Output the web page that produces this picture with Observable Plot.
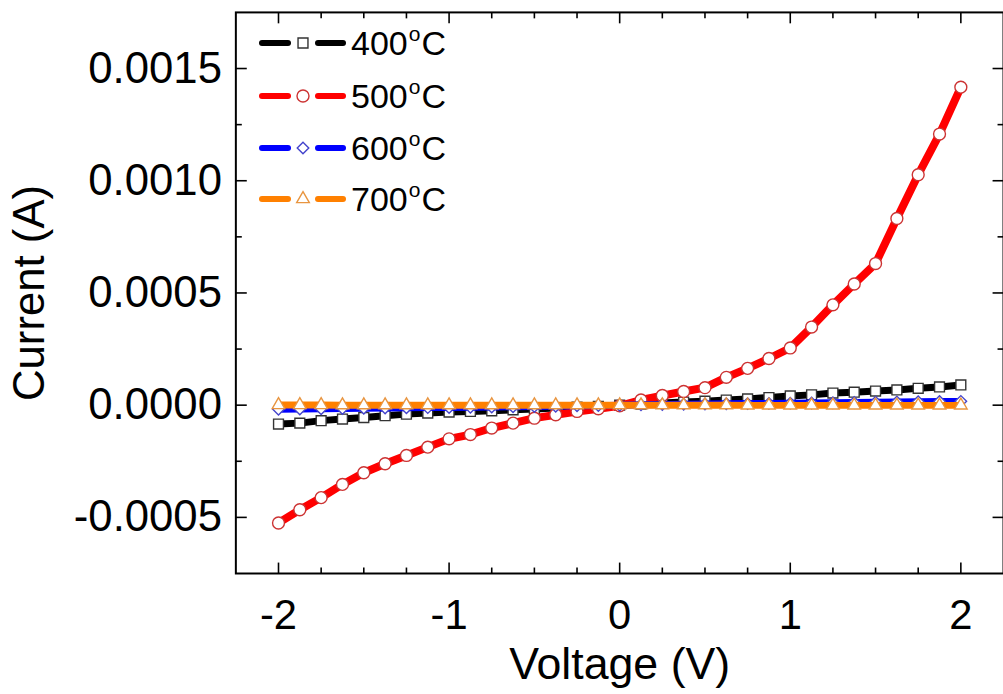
<!DOCTYPE html>
<html><head><meta charset="utf-8">
<script src="https://cdn.jsdelivr.net/npm/d3@7"></script>
<script src="https://cdn.jsdelivr.net/npm/@observablehq/plot@0.6"></script>
<style>
html,body{margin:0;padding:0;background:#fff;overflow:hidden;}
#wrap{position:relative;width:1003px;height:694px;overflow:hidden;font-family:"Liberation Sans",Arial,sans-serif;}
#legend{position:absolute;left:0;top:0;}
</style></head><body><div id="wrap"><div id="chart"></div><svg id="legend" width="1003" height="694"></svg></div>
<script>
// ---- data ----
const voltage = [-2, -1.875, -1.75, -1.625, -1.5, -1.375, -1.25, -1.125, -1, -0.875, -0.75, -0.625, -0.5, -0.375, -0.25, -0.125, 0,
  0.125, 0.25, 0.375, 0.5, 0.625, 0.75, 0.875, 1, 1.125, 1.25, 1.375, 1.5, 1.625, 1.75, 1.875, 2];
const current400 = [-0.000084, -0.000080, -0.000069, -0.000062, -0.000055, -0.000047, -0.000040, -0.000035, -0.000031, -0.000028, -0.000025, -0.000021, -0.000017, -0.000013, -0.000009, -0.000005, 0.000000,
  0.000005, 0.000010, 0.000014, 0.000018, 0.000023, 0.000028, 0.000034, 0.000041, 0.000046, 0.000054, 0.000058, 0.000063, 0.000068, 0.000075, 0.000081, 0.000090];
const current500 = [-0.000525, -0.000466, -0.000412, -0.000353, -0.000301, -0.000261, -0.000224, -0.000187, -0.000150, -0.000131, -0.000102, -0.000080, -0.000058, -0.000043, -0.000028, -0.000016, -0.000003,
  0.000023, 0.000043, 0.000061, 0.000078, 0.000124, 0.000164, 0.000208, 0.000255, 0.000348, 0.000447, 0.000540, 0.000631, 0.000832, 0.001027, 0.001208, 0.001417];
const current600 = [-0.000018, -0.000017, -0.000016, -0.000015, -0.000014, -0.000013, -0.000012, -0.000011, -0.000010, -0.000009, -0.000008, -0.000007, -0.000006, -0.000005, -0.000003, -0.000002, 0.000000,
  0.000002, 0.000003, 0.000004, 0.000005, 0.000006, 0.000007, 0.000008, 0.000009, 0.000010, 0.000011, 0.000012, 0.000013, 0.000014, 0.000015, 0.000016, 0.000017];
const current700 = [0.000001, 0.000001, 0.000001, 0.000000, 0.000000, 0.000000, 0.000000, 0.000000, 0.000000, 0.000000, 0.000000, 0.000000, 0.000000, 0.000000, 0.000000, 0.000000, 0.000000,
  0.000000, 0.000000, 0.000000, 0.000000, 0.000000, -0.000001, -0.000001, -0.000001, -0.000001, -0.000001, -0.000001, -0.000001, -0.000001, -0.000001, -0.000001, -0.000001];
const temperatures = ["400", "500", "600", "700"];
const lineColors = ["#000000", "#ff0000", "#0000ff", "#ff8000"];
const markerStrokes = ["#333333", "#cc3333", "#4444cc", "#e89540"];
const markerSymbols = ["square", "circle", "diamond2", "triangle"];
const markerRadii = [5.6, 6, 5.2, 4.7];
const lineWidths = [7, 8, 7, 7];
const xDomain = [-2.25, 2.25];
const yDomain = [-0.00075, 0.00175];
const xMajorTicks = [-2, -1, 0, 1, 2];
const xMinorTicks = [-1.75, -1.5, -1.25, -0.75, -0.5, -0.25, 0.25, 0.5, 0.75, 1.25, 1.5, 1.75];
const yMajorTicks = [-0.0005, 0, 0.0005, 0.001, 0.0015];
const yMinorTicks = [-0.00025, 0.00025, 0.00075, 0.00125];
const xTitle = "Voltage (V)";
const yTitle = "Current (A)";

const seriesValues = [current400, current500, current600, current700];
const rows = [];
seriesValues.forEach((vals, s) => vals.forEach((c, i) => rows.push({series: s, v: voltage[i], c})));

// custom tick symbols (inward ticks)
const mk = (dx, dy) => ({draw(ctx, size) { const l = Math.sqrt(size); ctx.moveTo(0, 0); ctx.lineTo(dx * l, dy * l); }});
const tickUp = mk(0, -1), tickDown = mk(0, 1), tickRight = mk(1, 0), tickLeft = mk(-1, 0);
const rFor = len => len / Math.sqrt(Math.PI);
const MAJ = 11, MIN = 6;

const tickMarks = [];
const tk = (data, opts) => tickMarks.push(Plot.dot(data, {fill: "none", stroke: "black", strokeWidth: 1.6, ...opts}));
tk(xMajorTicks, {x: d => d, y: () => yDomain[0], symbol: tickUp, r: rFor(MAJ)});
tk(xMinorTicks, {x: d => d, y: () => yDomain[0], symbol: tickUp, r: rFor(MIN)});
tk(xMajorTicks, {x: d => d, y: () => yDomain[1], symbol: tickDown, r: rFor(MAJ)});
tk(xMinorTicks, {x: d => d, y: () => yDomain[1], symbol: tickDown, r: rFor(MIN)});
tk(yMajorTicks, {y: d => d, x: () => xDomain[0], symbol: tickRight, r: rFor(MAJ)});
tk(yMinorTicks, {y: d => d, x: () => xDomain[0], symbol: tickRight, r: rFor(MIN)});
tk(yMajorTicks, {y: d => d, x: () => xDomain[1], symbol: tickLeft, r: rFor(MAJ)});
tk(yMinorTicks, {y: d => d, x: () => xDomain[1], symbol: tickLeft, r: rFor(MIN)});

const seriesMarks = [];
temperatures.forEach((t, s) => {
  const data = rows.filter(d => d.series === s);
  seriesMarks.push(Plot.line(data, {x: "v", y: "c", stroke: lineColors[s], strokeWidth: lineWidths[s]}));
  seriesMarks.push(Plot.dot(data, {x: "v", y: "c", symbol: markerSymbols[s], r: markerRadii[s], fill: "white", stroke: markerStrokes[s], strokeWidth: 1.4}));
});

const chart = Plot.plot({
  width: 1010, height: 694,
  marginLeft: 237, marginRight: 0, marginTop: 12, marginBottom: 117,
  style: {fontFamily: "'Liberation Sans', Arial, sans-serif", background: "white", color: "black"},
  x: {domain: xDomain},
  y: {domain: yDomain},
  marks: [
    ...seriesMarks,
    ...tickMarks,
    Plot.frame({stroke: "black", strokeWidth: 2}),
    Plot.axisX({ticks: xMajorTicks, tickSize: 0, tickPadding: 26, fontSize: 42, tickFormat: d => String(d), label: null}),
    Plot.axisY({ticks: yMajorTicks, tickSize: 0, tickPadding: 14, fontSize: 44, tickFormat: d => d.toFixed(4), label: null}),
    Plot.text([xTitle], {text: d => d, frameAnchor: "bottom", textAnchor: "middle", dy: 106, fontSize: 45}),
    Plot.text([yTitle], {text: d => d, frameAnchor: "left", textAnchor: "middle", dx: -207, rotate: -90, fontSize: 44})
  ]
});
document.getElementById("chart").appendChild(chart);

// legend overlay
const lg = d3.select("#legend");
const rowY = [43, 96, 148, 199];
temperatures.forEach((t, s) => {
  const g = lg.append("g").attr("transform", `translate(0,${rowY[s]})`);
  g.append("line").attr("x1", 262).attr("x2", 288).attr("y1", 0).attr("y2", 0)
    .attr("stroke", lineColors[s]).attr("stroke-width", 6).attr("stroke-linecap", "round");
  g.append("line").attr("x1", 318).attr("x2", 343).attr("y1", 0).attr("y2", 0)
    .attr("stroke", lineColors[s]).attr("stroke-width", 6).attr("stroke-linecap", "round");
  const sym = {square: d3.symbolSquare, circle: d3.symbolCircle, diamond2: d3.symbolDiamond2, triangle: d3.symbolTriangle}[markerSymbols[s]];
  g.append("path").attr("transform", "translate(303,0)")
    .attr("d", d3.symbol(sym, markerRadii[s] * markerRadii[s] * Math.PI)())
    .attr("fill", "white").attr("stroke", markerStrokes[s]).attr("stroke-width", 1.4);
  const tx = g.append("text").attr("x", 351).attr("y", 12)
    .attr("font-family", "'Liberation Sans', Arial, sans-serif").attr("font-size", 34).attr("fill", "black");
  tx.append("tspan").text(t);
  tx.append("tspan").attr("font-size", 21).attr("dy", -14).attr("dx", 1).text("o");
  tx.append("tspan").attr("dy", 14).attr("dx", 1).text("C");
});
</script></body></html>
